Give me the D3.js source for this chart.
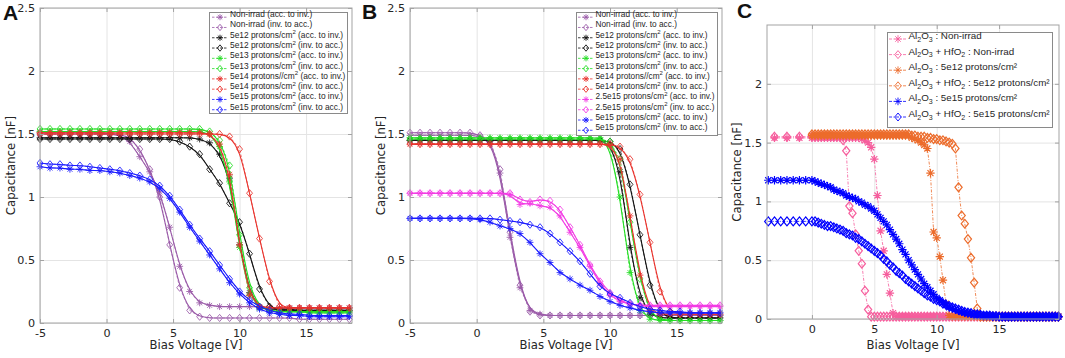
<!DOCTYPE html>
<html><head><meta charset="utf-8">
<script src="https://cdn.jsdelivr.net/npm/d3@7"></script>
<style>body{margin:0;background:#fff}svg{display:block}</style>
</head><body><svg id="chart" width="1065" height="358"></svg>
<script>
// ---------------- DATA ----------------
const voltsAB = [-5,-4.25,-3.5,-2.75,-2,-1.25,-0.5,0.25,1,1.75,2.5,3.25,4,4.75,5.5,6.25,7,7.75,8.5,9.25,10,10.75,11.5,12.25,13,13.75,14.5,15.25,16,16.75,17.5,18.25];

// Panel A
const aNonIrradAcc = [1.50,1.50,1.50,1.50,1.50,1.50,1.50,1.50, 1.49,1.44,1.32,1.20,1.04,0.76,0.45,0.25, 0.16,0.14,0.13,0.13,0.13,0.13,0.13,0.12, 0.12,0.12,0.12,0.12,0.12,0.12,0.12,0.12];
const aNonIrradInv = [1.51,1.51,1.51,1.51,1.51,1.51,1.51,1.50, 1.50,1.47,1.38,1.22,1.00,0.62,0.28,0.10, 0.05,0.04,0.04,0.04,0.04,0.04,0.04,0.04, 0.04,0.04,0.03,0.03,0.03,0.03,0.03,0.03];
const a5e12Acc = [1.47,1.47,1.47,1.47,1.47,1.47,1.47,1.47, 1.47,1.47,1.47,1.47,1.47,1.47,1.47,1.47, 1.46,1.43,1.34,1.15,0.62,0.24,0.12,0.11, 0.11,0.11,0.10,0.10,0.10,0.10,0.10,0.10];
const a5e12Inv = [1.46,1.46,1.46,1.46,1.46,1.46,1.46,1.46, 1.46,1.46,1.46,1.46,1.46,1.46,1.44,1.40, 1.34,1.22,1.11,0.95,0.80,0.55,0.27,0.13, 0.10,0.10,0.10,0.10,0.10,0.10,0.10,0.10];
const a5e13Acc = [1.52,1.52,1.52,1.52,1.52,1.52,1.52,1.52, 1.52,1.52,1.52,1.52,1.52,1.52,1.52,1.52, 1.52,1.50,1.40,1.12,0.60,0.22,0.12,0.10, 0.09,0.09,0.09,0.08,0.08,0.08,0.08,0.08];
const a5e13Inv = [1.54,1.54,1.54,1.54,1.54,1.54,1.54,1.54, 1.54,1.54,1.54,1.54,1.54,1.54,1.54,1.54, 1.54,1.52,1.45,1.25,0.70,0.28,0.13,0.10, 0.09,0.09,0.09,0.09,0.09,0.09,0.09,0.09];
const a5e14Acc = [1.51,1.51,1.51,1.51,1.51,1.51,1.51,1.51, 1.51,1.51,1.51,1.51,1.51,1.51,1.51,1.51, 1.51,1.50,1.42,1.18,0.62,0.22,0.13,0.12, 0.12,0.12,0.12,0.12,0.12,0.12,0.12,0.12];
const a5e14Inv = [1.50,1.50,1.50,1.50,1.50,1.50,1.50,1.50, 1.50,1.50,1.50,1.50,1.50,1.50,1.50,1.50, 1.50,1.50,1.50,1.48,1.38,1.03,0.67,0.33, 0.13,0.12,0.12,0.12,0.12,0.12,0.12,0.12];
const a5e15Acc = [1.24,1.23,1.23,1.22,1.22,1.21,1.21,1.20, 1.19,1.17,1.15,1.12,1.07,0.99,0.88,0.76, 0.65,0.54,0.43,0.32,0.23,0.16,0.11,0.08, 0.07,0.06,0.06,0.05,0.05,0.05,0.05,0.05];
const a5e15Inv = [1.27,1.26,1.26,1.25,1.25,1.24,1.23,1.22, 1.21,1.19,1.17,1.14,1.09,1.01,0.90,0.78, 0.67,0.57,0.46,0.35,0.25,0.18,0.13,0.10, 0.08,0.07,0.07,0.06,0.06,0.06,0.06,0.06];

// Panel B
const bNonIrradAcc = [1.49,1.49,1.49,1.49,1.49,1.49,1.49,1.48, 1.44,1.19,0.68,0.28,0.10,0.07,0.06,0.06, 0.06,0.06,0.06,0.06,0.06,0.06,0.06,0.06, 0.06,0.06,0.06,0.06,0.06,0.06,0.06,0.06];
const bNonIrradInv = [1.51,1.51,1.51,1.51,1.51,1.51,1.51,1.49, 1.45,1.22,0.72,0.30,0.09,0.06,0.06,0.06, 0.06,0.06,0.06,0.06,0.06,0.06,0.06,0.06, 0.06,0.06,0.06,0.06,0.06,0.06,0.06,0.06];
const b5e12Acc = [1.45,1.45,1.45,1.45,1.45,1.45,1.45,1.45, 1.45,1.45,1.45,1.45,1.45,1.45,1.45,1.45, 1.45,1.45,1.45,1.45,1.42,1.20,0.60,0.20, 0.07,0.04,0.04,0.04,0.04,0.04,0.04,0.04];
const b5e12Inv = [1.45,1.45,1.45,1.45,1.45,1.45,1.45,1.45, 1.45,1.45,1.45,1.45,1.45,1.45,1.45,1.45, 1.45,1.45,1.45,1.45,1.44,1.38,1.10,0.70, 0.30,0.08,0.04,0.04,0.04,0.04,0.04,0.04];
const b5e13Acc = [1.47,1.47,1.47,1.47,1.47,1.47,1.47,1.47, 1.47,1.47,1.47,1.47,1.47,1.47,1.47,1.47, 1.47,1.47,1.47,1.47,1.40,1.00,0.40,0.10, 0.03,0.02,0.02,0.02,0.02,0.02,0.02,0.02];
const b5e13Inv = [1.46,1.46,1.46,1.46,1.46,1.46,1.46,1.46, 1.46,1.46,1.46,1.46,1.46,1.46,1.46,1.46, 1.46,1.46,1.46,1.46,1.44,1.30,0.80,0.35, 0.08,0.03,0.02,0.02,0.02,0.02,0.02,0.02];
const b5e14Acc = [1.42,1.42,1.42,1.42,1.42,1.42,1.42,1.42, 1.42,1.42,1.42,1.42,1.42,1.42,1.42,1.42, 1.42,1.42,1.42,1.42,1.41,1.30,0.85,0.38, 0.10,0.07,0.07,0.07,0.07,0.07,0.07,0.07];
const b5e14Inv = [1.42,1.42,1.42,1.42,1.42,1.42,1.42,1.42, 1.42,1.42,1.42,1.42,1.42,1.42,1.42,1.42, 1.42,1.42,1.42,1.42,1.42,1.40,1.30,1.02, 0.64,0.25,0.09,0.07,0.07,0.07,0.07,0.07];
const b25e15Acc = [1.03,1.03,1.03,1.03,1.03,1.03,1.03,1.03, 1.03,1.03,1.02,0.94,0.95,0.93,0.92,0.85, 0.72,0.60,0.45,0.31,0.22,0.17,0.15,0.14, 0.13,0.13,0.13,0.13,0.13,0.13,0.13,0.13];
const b25e15Inv = [1.03,1.03,1.03,1.03,1.03,1.03,1.03,1.03, 1.03,1.03,1.03,0.98,0.96,0.98,0.97,0.90, 0.76,0.62,0.46,0.33,0.24,0.18,0.15,0.14, 0.14,0.14,0.14,0.14,0.14,0.14,0.14,0.14];
const b5e15Acc = [0.83,0.83,0.83,0.83,0.83,0.83,0.83,0.82, 0.80,0.77,0.75,0.71,0.64,0.55,0.48,0.40, 0.35,0.30,0.26,0.21,0.17,0.14,0.12,0.10, 0.09,0.08,0.08,0.08,0.08,0.08,0.08,0.08];
const b5e15Inv = [0.83,0.83,0.83,0.83,0.83,0.83,0.83,0.83, 0.83,0.82,0.81,0.80,0.78,0.76,0.71,0.64, 0.57,0.49,0.39,0.29,0.23,0.20,0.16,0.13, 0.11,0.10,0.09,0.09,0.08,0.08,0.08,0.08];

// Panel C
const voltsC = [0,0.25,0.5,0.75,1,1.25,1.5,1.75, 2,2.25,2.5,2.75,3,3.25,3.5,3.75, 4,4.25,4.5,4.75,5,5.25,5.5,5.75, 6,6.25,6.5,6.75,7,7.25,7.5,7.75, 8,8.25,8.5,8.75,9,9.25,9.5,9.75, 10,10.25,10.5,10.75,11,11.25,11.5,11.75, 12,12.25,12.5,12.75,13,13.25,13.5,13.75, 14,14.25,14.5,14.75,15,15.25,15.5,15.75, 16,16.25,16.5,16.75,17,17.25,17.5,17.75, 18,18.25,18.5,18.75,19,19.25,19.5,19.75];
const voltsCPinkPre = [-3,-2,-1];
const voltsCBluePre = [-3.5,-3,-2.5,-2,-1.5,-1,-0.5];
const cAlNonPre = [1.54,1.54,1.54];
const cHfNonPre = [1.55,1.55,1.55];
const cAl5e15Pre = [1.18,1.18,1.18,1.18,1.18,1.18,1.18];
const cHf5e15Pre = [0.83,0.83,0.83,0.83,0.83,0.83,0.83];
const cAlNon = [1.54,1.54,1.54,1.54,1.54,1.54,1.54,1.54, 1.54,1.54,1.54,1.54,1.54,1.54,1.54,1.54,
  1.53,1.52,1.50,1.46,1.36,1.05,0.75,0.58,0.38,0.22,0.05,
  0.02,0.02,0.02,0.02,0.02,0.02,0.02,0.02, 0.02,0.02,0.02,0.02,0.02,0.02,0.02,0.02, 0.02,0.02,0.02,0.02,0.02,0.02,0.02,0.02,
  0.02,0.02,0.02,0.02,0.02,0.02,0.02,0.02, 0.02,0.02,0.02,0.02,0.02,0.02,0.02,0.02, 0.02,0.02,0.02,0.02,0.02,0.02,0.02,0.02, 0.02,0.02,0.02,0.02,0.02];
const cHfNon = [1.55,1.55,1.55,1.55,1.55,1.55,1.55,1.55,1.55,1.55,
  1.52,1.43,0.96,0.90,0.72,0.58,0.47,0.24,0.08,
  0.02,0.02,0.02,0.02,0.02,0.02,0.02,0.02, 0.02,0.02,0.02,0.02,0.02,0.02,0.02,0.02, 0.02,0.02,0.02,0.02,0.02,0.02,0.02,0.02,
  0.02,0.02,0.02,0.02,0.02,0.02,0.02,0.02, 0.02,0.02,0.02,0.02,0.02,0.02,0.02,0.02, 0.02,0.02,0.02,0.02,0.02,0.02,0.02,0.02,
  0.02,0.02,0.02,0.02,0.02,0.02,0.02,0.02, 0.02,0.02,0.02,0.02,0.02];
const cAl5e12 = [1.56,1.56,1.56,1.56,1.56,1.56,1.56,1.56, 1.56,1.56,1.56,1.56,1.56,1.56,1.56,1.56, 1.56,1.56,1.56,1.56,1.56,1.56,1.56,1.56, 1.56,1.56,1.56,1.56,1.56,1.56,1.56,1.56,
  1.54,1.53,1.52,1.50,1.48,1.45,1.24,0.74,0.69,0.53,0.33,0.13,0.03,
  0.02,0.02,0.02,0.02,0.02,0.02,0.02,0.02, 0.02,0.02,0.02,0.02,0.02,0.02,0.02,0.02, 0.02,0.02,0.02,0.02,0.02,0.02,0.02,0.02, 0.02,0.02,0.02,0.02,0.02,0.02,0.02,0.02, 0.02,0.02,0.02];
const cHf5e12 = [1.57,1.57,1.57,1.57,1.57,1.57,1.57,1.57, 1.57,1.57,1.57,1.57,1.57,1.57,1.57,1.57, 1.57,1.57,1.57,1.57,1.57,1.57,1.57,1.57, 1.57,1.57,1.57,1.57,1.57,1.57,1.57,1.57,
  1.56,1.56,1.55,1.55,1.55,1.54,1.54,1.53,1.53,1.52,
  1.52,1.51,1.50,1.49,1.45,1.12,0.88,0.81,0.68,0.52,0.31,0.09,0.02,
  0.02,0.02,0.02,0.02,0.02,0.02,0.02,0.02, 0.02,0.02,0.02,0.02,0.02,0.02,0.02,0.02, 0.02,0.02,0.02,0.02,0.02,0.02,0.02,0.02, 0.02];
const cAl5e15 = [1.18,1.17,1.16,1.15,1.14,1.13,1.12,1.10, 1.09,1.08,1.07,1.05,1.04,1.03,1.02,1.00, 0.99,0.97,0.96,0.94,0.92,0.89,0.86,0.83,
  0.80,0.76,0.72,0.68,0.64,0.59,0.55,0.50, 0.46,0.42,0.38,0.34,0.30,0.27,0.24,0.21, 0.18,0.16,0.14,0.12,0.10,0.09,0.08,0.07,
  0.06,0.055,0.05,0.045,0.04,0.04,0.035,0.03, 0.03,0.03,0.025,0.025,
  0.02,0.02,0.02,0.02,0.02,0.02,0.02,0.02, 0.02,0.02,0.02,0.02,0.02,0.02,0.02,0.02, 0.02,0.02,0.02,0.02];
const cHf5e15 = [0.83,0.83,0.82,0.81,0.80,0.79,0.79,0.78, 0.77,0.76,0.75,0.73,0.72,0.71,0.69,0.68, 0.66,0.64,0.62,0.60,0.58,0.56,0.54,0.51,
  0.49,0.46,0.44,0.41,0.39,0.37,0.34,0.32, 0.30,0.28,0.26,0.24,0.22,0.20,0.19,0.17, 0.16,0.15,0.13,0.12,0.11,0.10,0.09,0.08,
  0.07,0.06,0.055,0.05,0.04,0.04,0.035,0.03, 0.03,0.03,0.025,0.025,
  0.02,0.02,0.02,0.02,0.02,0.02,0.02,0.02, 0.02,0.02,0.02,0.02,0.02,0.02,0.02,0.02, 0.02,0.02,0.02,0.02];

const xTicksAB = [-5,0,5,10,15];
const yTicksAB = [0,0.5,1,1.5,2,2.5];
const xTicksC = [0,5,10,15];
const yTicksC = [0,0.5,1,1.5,2];

// colours
const PURPLE="#9a5aa8", BLACK="#111111", GREEN="#22dd22", RED="#e8322c", MAGENTA="#f23ae4", BLUE="#1a1aff";
const PINK="#f65e9d", ORANGE="#ec6c2c", CBLUE="#0000ff";

// ---------------- DRAWING ----------------
const svg = d3.select("#chart");
const TF = "'DejaVu Sans', sans-serif";
const LF = "'Liberation Sans', Arial, sans-serif";

function starPath(r){const a=r*0.72;return `M${-r},0H${r}M0,${-r}V${r}M${-a},${-a}L${a},${a}M${-a},${a}L${a},${-a}`;}
function diamondPath(r){const w=r*0.82;return `M0,${-r}L${w},0L0,${r}L${-w},0Z`;}

function richText(t, segs, size){
  let cur=0;
  segs.forEach(([s,m])=>{
    const shift = m==="sup" ? -size*0.42 : m==="sub" ? size*0.28 : 0;
    t.append("tspan").attr("dy", (shift-cur).toFixed(2)).attr("font-size", m ? size*0.72 : size).text(s);
    cur=shift;
  });
}

function drawPanel(p){
  const x = d3.scaleLinear().domain(p.xDomain).range([p.x0,p.x1]);
  const y = d3.scaleLinear().domain(p.yDomain).range([p.y1,p.y0]);
  const W=p.x1-p.x0, H=p.y1-p.y0;
  const g = svg.append("g");
  const gridStyle = s=>{s.select(".domain").remove();s.selectAll("line").attr("stroke","#e4e4e4").attr("stroke-width",1);};
  g.append("g").attr("transform",`translate(0,${p.y1})`)
    .call(d3.axisBottom(x).tickValues(p.xTicks).tickSize(-H).tickFormat("")).call(gridStyle);
  g.append("g").attr("transform",`translate(${p.x0},0)`)
    .call(d3.axisLeft(y).tickValues(p.yGrid).tickSize(-W).tickFormat("")).call(gridStyle);

  // series
  p.series.forEach(s=>{
    const pts = s.x.map((v,i)=>[v,s.y[i]]).filter(d=>d[1]!==undefined);
    const sg = g.append("g");
    if(p.fit){
      sg.append("path").datum(pts).attr("fill","none").attr("stroke",s.color).attr("stroke-width",0.7)
        .attr("stroke-dasharray","2.5,2").attr("d",d3.line().x(d=>x(d[0])).y(d=>y(d[1])));
      sg.append("path").datum(pts).attr("fill","none").attr("stroke",s.color).attr("stroke-width",1.1)
        .attr("d",d3.line().curve(d3.curveBasis).x(d=>x(d[0])).y(d=>y(d[1])));
    } else {
      sg.append("path").datum(pts).attr("fill","none").attr("stroke",s.color).attr("stroke-width",0.8)
        .attr("stroke-dasharray","3,1.5,1,1.5").attr("d",d3.line().x(d=>x(d[0])).y(d=>y(d[1])));
    }
    sg.selectAll("path.m").data(pts).join("path").attr("class","m")
      .attr("transform",d=>`translate(${x(d[0])},${y(d[1])})`)
      .attr("d", s.marker==="star" ? starPath(p.mr*0.95) : diamondPath(p.mr))
      .attr("fill","none").attr("stroke",s.color).attr("stroke-width",p.mw);
  });

  // box & ticks
  g.append("rect").attr("x",p.x0).attr("y",p.y0).attr("width",W).attr("height",H)
    .attr("fill","none").attr("stroke","#a3a3a3").attr("stroke-width",1);
  const axStyle = s=>{s.select(".domain").remove();s.selectAll("line").attr("stroke","#a3a3a3");
    s.selectAll("text").attr("fill","#262626").attr("font-family",TF).attr("font-size",11.2);};
  g.append("g").attr("transform",`translate(0,${p.y1})`)
    .call(d3.axisBottom(x).tickValues(p.xTicks).tickSizeInner(-4).tickSizeOuter(0).tickPadding(6).tickFormat(d=>String(d))).call(axStyle);
  g.append("g").attr("transform",`translate(0,${p.y0})`)
    .call(d3.axisTop(x).tickValues(p.xTicks).tickSizeInner(-4).tickSizeOuter(0).tickFormat("")).call(axStyle);
  g.append("g").attr("transform",`translate(${p.x0},0)`)
    .call(d3.axisLeft(y).tickValues(p.yTicks).tickSizeInner(-4).tickSizeOuter(0).tickPadding(5).tickFormat(d=>String(d))).call(axStyle);
  g.append("g").attr("transform",`translate(${p.x1},0)`)
    .call(d3.axisRight(y).tickValues(p.yTicks).tickSizeInner(-4).tickSizeOuter(0).tickFormat("")).call(axStyle);

  // axis labels
  g.append("text").attr("x",(p.x0+p.x1)/2).attr("y",349).attr("text-anchor","middle")
    .attr("font-family",TF).attr("font-size",11.7).attr("fill","#262626").text("Bias Voltage [V]");
  g.append("text").attr("transform",`translate(${p.ylabX},${(p.y0+p.y1)/2}) rotate(-90)`).attr("dy","0.35em")
    .attr("text-anchor","middle").attr("font-family",TF).attr("font-size",11.7).attr("fill","#262626").text("Capacitance [nF]");
  // panel letter
  g.append("text").attr("x",p.letterX).attr("y",p.letterY).attr("font-family",LF).attr("font-weight","bold")
    .attr("font-size",21).attr("fill","#111").text(p.letter);

  // legend
  const L = p.legend;
  g.append("rect").attr("x",L.x0).attr("y",L.y0).attr("width",L.x1-L.x0).attr("height",L.y1-L.y0)
    .attr("fill","#fff").attr("stroke","#8a8a8a").attr("stroke-width",1);
  p.series.forEach((s,i)=>{
    const ry = L.row0 + i*L.dy;
    g.append("line").attr("x1",L.lx0).attr("x2",L.lx1).attr("y1",ry).attr("y2",ry).attr("stroke",s.color)
      .attr("stroke-width",0.8).attr("stroke-dasharray", p.fit ? "2.5,1.5" : "3,1.5,1,1.5");
    g.append("path").attr("transform",`translate(${(L.lx0+L.lx1)/2},${ry})`)
      .attr("d", s.marker==="star" ? starPath(L.mr*0.95) : diamondPath(L.mr))
      .attr("fill","none").attr("stroke",s.color).attr("stroke-width",0.9);
    const t = g.append("text").attr("x",L.tx).attr("y",ry).attr("dy","0.35em").attr("font-family",LF)
      .attr("font-size",L.fs).attr("fill","#262626");
    richText(t, s.label, L.fs);
  });
}

const lbl = (pre, post) => [[pre+" protons/cm",""],["2","sup"],[" ("+post+")",""]];
const lbl2 = (pre, post) => [[pre+" protons//cm",""],["2","sup"],[" ("+post+")",""]];
const AI="acc. to inv.", IA="inv. to acc.";

const seriesA = [
  {y:aNonIrradAcc,color:PURPLE,marker:"star",label:[["Non-irrad ("+AI+")",""]]},
  {y:aNonIrradInv,color:PURPLE,marker:"diamond",label:[["Non-irrad ("+IA+")",""]]},
  {y:a5e12Acc,color:BLACK,marker:"star",label:lbl("5e12",AI)},
  {y:a5e12Inv,color:BLACK,marker:"diamond",label:lbl("5e12",IA)},
  {y:a5e13Acc,color:GREEN,marker:"star",label:lbl("5e13",AI)},
  {y:a5e13Inv,color:GREEN,marker:"diamond",label:lbl("5e13",IA)},
  {y:a5e14Acc,color:RED,marker:"star",label:lbl2("5e14",AI)},
  {y:a5e14Inv,color:RED,marker:"diamond",label:lbl("5e14",IA)},
  {y:a5e15Acc,color:BLUE,marker:"star",label:lbl("5e15",AI)},
  {y:a5e15Inv,color:BLUE,marker:"diamond",label:lbl("5e15",IA)}
].map(s=>({...s,x:voltsAB}));

const seriesB = [
  {y:bNonIrradAcc,color:PURPLE,marker:"star",label:[["Non-irrad ("+AI+")",""]]},
  {y:bNonIrradInv,color:PURPLE,marker:"diamond",label:[["Non-irrad ("+IA+")",""]]},
  {y:b5e12Acc,color:BLACK,marker:"star",label:lbl("5e12",AI)},
  {y:b5e12Inv,color:BLACK,marker:"diamond",label:lbl("5e12",IA)},
  {y:b5e13Acc,color:GREEN,marker:"star",label:lbl("5e13",AI)},
  {y:b5e13Inv,color:GREEN,marker:"diamond",label:lbl("5e13",IA)},
  {y:b5e14Acc,color:RED,marker:"star",label:lbl2("5e14",AI)},
  {y:b5e14Inv,color:RED,marker:"diamond",label:lbl("5e14",IA)},
  {y:b25e15Acc,color:MAGENTA,marker:"star",label:lbl("2.5e15",AI)},
  {y:b25e15Inv,color:MAGENTA,marker:"diamond",label:lbl("2.5e15",IA)},
  {y:b5e15Acc,color:BLUE,marker:"star",label:lbl("5e15",AI)},
  {y:b5e15Inv,color:BLUE,marker:"diamond",label:lbl("5e15",IA)}
].map(s=>({...s,x:voltsAB}));

const al = [["Al",""],["2","sub"],["O",""],["3","sub"]];
const alhf = [["Al",""],["2","sub"],["O",""],["3","sub"],[" + HfO",""],["2","sub"]];
const seriesC = [
  {x:voltsCPinkPre.concat(voltsC),y:cAlNonPre.concat(cAlNon),color:PINK,marker:"star",label:al.concat([[" : Non-irrad",""]])},
  {x:voltsCPinkPre.concat(voltsC),y:cHfNonPre.concat(cHfNon),color:PINK,marker:"diamond",label:alhf.concat([[" : Non-irrad",""]])},
  {x:voltsC,y:cAl5e12,color:ORANGE,marker:"star",label:al.concat([[" : 5e12 protons/cm²",""]])},
  {x:voltsC,y:cHf5e12,color:ORANGE,marker:"diamond",label:alhf.concat([[" : 5e12 protons/cm²",""]])},
  {x:voltsCBluePre.concat(voltsC),y:cAl5e15Pre.concat(cAl5e15),color:CBLUE,marker:"star",label:al.concat([[" : 5e15 protons/cm²",""]])},
  {x:voltsCBluePre.concat(voltsC),y:cHf5e15Pre.concat(cHf5e15),color:CBLUE,marker:"diamond",label:alhf.concat([[" : 5e15 protons/cm²",""]])}
];

drawPanel({x0:40,x1:352,y0:8,y1:323,xDomain:[-5,18.45],yDomain:[0,2.5],xTicks:xTicksAB,yTicks:yTicksAB,yGrid:yTicksAB,
  series:seriesA,fit:true,mr:3.6,mw:0.85,ylabX:11,letter:"A",letterX:3,letterY:20,
  legend:{x0:209.5,y0:12.5,x1:347.5,y1:113.5,row0:17.2,dy:10.28,lx0:212,lx1:228,tx:230,fs:8.4,mr:3.2}});
drawPanel({x0:410,x1:722,y0:8,y1:323,xDomain:[-5,18.4],yDomain:[0,2.5],xTicks:xTicksAB,yTicks:yTicksAB,yGrid:yTicksAB,
  series:seriesB,fit:true,mr:3.6,mw:0.85,ylabX:381,letter:"B",letterX:362,letterY:19,
  legend:{x0:576.5,y0:12.5,x1:717.5,y1:135.5,row0:17.2,dy:10.28,lx0:578,lx1:594,tx:595.5,fs:8.3,mr:3.2}});
drawPanel({x0:767,x1:1059,y0:25,y1:319,xDomain:[-3.6,19.8],yDomain:[0,2.5],xTicks:xTicksC,yTicks:yTicksC,yGrid:yTicksC,
  series:seriesC,fit:false,mr:4.4,mw:1.2,ylabX:737,letter:"C",letterX:737,letterY:18,
  legend:{x0:887.5,y0:32.5,x1:1052.5,y1:127.5,row0:39,dy:15.6,lx0:889,lx1:907,tx:908.5,fs:9.8,mr:4}});
</script>
</body></html>
